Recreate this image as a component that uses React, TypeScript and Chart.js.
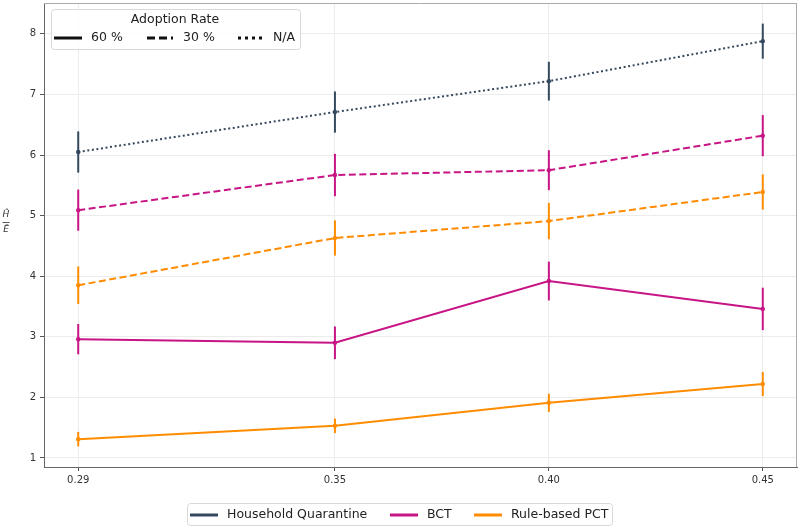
import React, { useEffect, useRef } from "react";
import { Chart, registerables } from "chart.js";

Chart.register(...registerables);

const xValues = [0.29, 0.35, 0.4, 0.45];
const yTicks = [1, 2, 3, 4, 5, 6, 7, 8];

const hq30 = [6.05, 6.71, 7.22, 7.88]; // N/A
const hq30Err = [0.34, 0.34, 0.32, 0.29];
const bct30 = [5.09, 5.67, 5.75, 6.32];
const bct30Err = [0.34, 0.35, 0.33, 0.34];
const pct30 = [3.85, 4.63, 4.91, 5.39];
const pct30Err = [0.31, 0.29, 0.3, 0.29];
const bct60 = [2.96, 2.9, 3.92, 3.46];
const bct60Err = [0.25, 0.27, 0.32, 0.35];
const pct60 = [1.31, 1.53, 1.91, 2.22];
const pct60Err = [0.12, 0.12, 0.15, 0.2];

const C_HQ = "#34495e";
const C_BCT = "#c71585";
const C_PCT = "#ff8c00";

const FONT = "'DejaVu Sans', sans-serif";

function mk(label: string, vals: number[], errs: number[], color: string, dash: number[]) {
  return {
    label,
    data: vals.map((v, i) => ({ x: xValues[i], y: v })),
    errors: errs,
    borderColor: color,
    backgroundColor: color,
    borderWidth: 2,
    borderDash: dash,
    pointRadius: 2.2,
    pointHoverRadius: 2.2,
    pointBorderWidth: 0,
    tension: 0,
  } as any;
}

const errorBarPlugin = {
  id: "errbars",
  beforeDatasetsDraw(chart: any) {
    const ctx = chart.ctx;
    const xs = chart.scales.x;
    const ys = chart.scales.y;
    chart.data.datasets.forEach((ds: any) => {
      ctx.save();
      ctx.strokeStyle = ds.borderColor;
      ctx.lineWidth = 2;
      ds.data.forEach((p: any, i: number) => {
        const e = ds.errors[i];
        const px = xs.getPixelForValue(p.x);
        ctx.beginPath();
        ctx.moveTo(px, ys.getPixelForValue(p.y - e));
        ctx.lineTo(px, ys.getPixelForValue(p.y + e));
        ctx.stroke();
      });
      ctx.restore();
    });
  },
};

function roundRect(ctx: CanvasRenderingContext2D, x: number, y: number, w: number, h: number, r: number) {
  ctx.beginPath();
  ctx.moveTo(x + r, y);
  ctx.lineTo(x + w - r, y);
  ctx.quadraticCurveTo(x + w, y, x + w, y + r);
  ctx.lineTo(x + w, y + h - r);
  ctx.quadraticCurveTo(x + w, y + h, x + w - r, y + h);
  ctx.lineTo(x + r, y + h);
  ctx.quadraticCurveTo(x, y + h, x, y + h - r);
  ctx.lineTo(x, y + r);
  ctx.quadraticCurveTo(x, y, x + r, y);
  ctx.closePath();
}

const decorPlugin = {
  id: "decor",
  afterDraw(chart: any) {
    const ctx: CanvasRenderingContext2D = chart.ctx;
    const a = chart.chartArea;
    ctx.save();
    // top/right spines
    ctx.strokeStyle = "#aaaaaa";
    ctx.lineWidth = 1;
    ctx.beginPath();
    ctx.moveTo(a.left, a.top + 0.5);
    ctx.lineTo(a.right, a.top + 0.5);
    ctx.moveTo(a.right - 0.5, a.top);
    ctx.lineTo(a.right - 0.5, a.bottom);
    ctx.stroke();

    // top legend
    roundRect(ctx, 51.5, 9.5, 249, 40, 3);
    ctx.fillStyle = "rgba(255,255,255,0.85)";
    ctx.fill();
    ctx.strokeStyle = "#d8d8d8";
    ctx.stroke();
    ctx.fillStyle = "#222";
    ctx.font = `12.5px ${FONT}`;
    ctx.textAlign = "center";
    ctx.textBaseline = "middle";
    ctx.fillText("Adoption Rate", 175, 20);
    ctx.textAlign = "left";
    const items = [
      { x0: 54, x1: 82, tx: 91, t: "60 %", dash: [] as number[] },
      { x0: 147, x1: 173, tx: 183, t: "30 %", dash: [8, 4] },
      { x0: 238, x1: 262, tx: 273, t: "N/A", dash: [3, 4] },
    ];
    items.forEach((it) => {
      ctx.strokeStyle = "#111";
      ctx.lineWidth = 3;
      ctx.setLineDash(it.dash);
      ctx.beginPath();
      ctx.moveTo(it.x0, 38);
      ctx.lineTo(it.x1, 38);
      ctx.stroke();
      ctx.setLineDash([]);
      ctx.fillStyle = "#222";
      ctx.fillText(it.t, it.tx, 38);
    });

    // bottom legend
    roundRect(ctx, 187.5, 503.5, 425, 22, 3);
    ctx.fillStyle = "#fff";
    ctx.fill();
    ctx.strokeStyle = "#d8d8d8";
    ctx.lineWidth = 1;
    ctx.stroke();
    const bItems = [
      { x0: 190, x1: 218, tx: 227, t: "Household Quarantine", c: C_HQ },
      { x0: 390, x1: 418, tx: 427, t: "BCT", c: C_BCT },
      { x0: 474, x1: 502, tx: 511, t: "Rule-based PCT", c: C_PCT },
    ];
    bItems.forEach((it) => {
      ctx.strokeStyle = it.c;
      ctx.lineWidth = 3;
      ctx.beginPath();
      ctx.moveTo(it.x0, 515);
      ctx.lineTo(it.x1, 515);
      ctx.stroke();
      ctx.fillStyle = "#222";
      ctx.fillText(it.t, it.tx, 515);
    });

    // y axis label: fraction H-hat over E-bar
    ctx.fillStyle = "#333";
    ctx.font = `italic 9px ${FONT}`;
    ctx.textAlign = "center";
    ctx.fillText("Ĥ", 6, 215);
    ctx.fillText("Ē", 6, 230);
    ctx.strokeStyle = "#333";
    ctx.lineWidth = 0.8;
    ctx.beginPath();
    ctx.moveTo(2.5, 222.5);
    ctx.lineTo(9.5, 222.5);
    ctx.stroke();
    ctx.restore();
  },
};

export default function App() {
  const ref = useRef<HTMLCanvasElement>(null);
  useEffect(() => {
    document.body.style.margin = "0";
    const chart = new Chart(ref.current!, {
      type: "line",
      data: {
        datasets: [
          mk("Household Quarantine", hq30, hq30Err, C_HQ, [2, 2.6]),
          mk("BCT 30", bct30, bct30Err, C_BCT, [7, 3.5]),
          mk("PCT 30", pct30, pct30Err, C_PCT, [7, 3.5]),
          mk("BCT 60", bct60, bct60Err, C_BCT, []),
          mk("PCT 60", pct60, pct60Err, C_PCT, []),
        ],
      },
      options: {
        animation: false,
        responsive: false,
        maintainAspectRatio: false,
        layout: { padding: { left: 0, right: 3, top: 3, bottom: 0 } },
        plugins: { legend: { display: false }, tooltip: { enabled: false } },
        scales: {
          x: {
            type: "linear",
            min: 0.282,
            max: 0.458,
            afterBuildTicks: (s: any) => {
              s.ticks = xValues.map((v) => ({ value: v }));
            },
            afterFit: (s: any) => {
              s.height = 63;
              s.paddingLeft = 0;
              s.paddingRight = 0;
            },
            ticks: {
              callback: (v: any) => Number(v).toFixed(2),
              font: { family: FONT, size: 10 },
              color: "#333",
              padding: 3,
              maxRotation: 0,
            },
            grid: { color: "#ececec", tickColor: "#555", tickLength: 4 },
            border: { color: "#666" },
          },
          y: {
            min: 0.85,
            max: 8.51,
            afterBuildTicks: (s: any) => {
              s.ticks = yTicks.map((v) => ({ value: v }));
            },
            afterFit: (s: any) => {
              s.width = 44;
              s.paddingTop = 0;
              s.paddingBottom = 0;
            },
            ticks: {
              font: { family: FONT, size: 10 },
              color: "#333",
              padding: 4,
            },
            grid: { color: "#ececec", tickColor: "#555", tickLength: 4 },
            border: { color: "#666" },
          },
        },
      } as any,
      plugins: [errorBarPlugin, decorPlugin],
    });
    return () => chart.destroy();
  }, []);
  return (
    <div style={{ width: 800, height: 530 }}>
      <canvas ref={ref} width={800} height={530} style={{ display: "block" }} />
    </div>
  );
}
